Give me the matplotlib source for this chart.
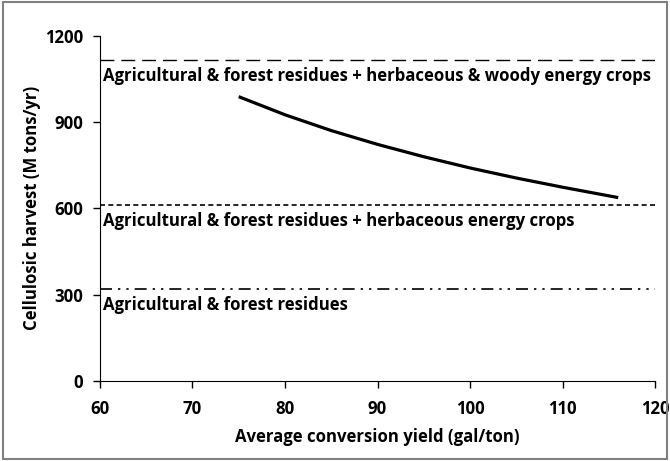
import matplotlib
matplotlib.use("Agg")
import matplotlib.pyplot as plt
from matplotlib.patches import Rectangle

# curva: colleita necesaria segundo o rendemento medio
yield_gal_ton = [75, 80, 85, 90, 95, 100, 105, 110, 116]
harvest_mtons = [988, 925, 870, 822, 779, 740, 705, 673, 637]

# niveis de dispoñibilidade de biomasa
supply_levels = [1115, 612, 320]
supply_labels = [
    "Agricultural & forest residues + herbaceous & woody energy crops",
    "Agricultural & forest residues + herbaceous energy crops",
    "Agricultural & forest residues",
]

plt.rcParams['font.family'] = ['Open Sans', 'DejaVu Sans']
plt.rcParams['font.weight'] = 'bold'
fs = 12.1

fig = plt.figure(figsize=(6.7, 4.61), dpi=100)
ax = fig.add_axes([0.149, 0.174, 0.829, 0.7486])

ax.plot(yield_gal_ton, harvest_mtons, color='black', linewidth=2.3, solid_capstyle='butt')

line_styles = [
    dict(dashes=(10, 5), linewidth=1.0),
    dict(dashes=(3, 2), linewidth=1.2),
    dict(dashes=(7.2, 3.6, 1.4, 3.6, 1.4, 3.6), linewidth=1.2),
]
for level, label, st in zip(supply_levels, supply_labels, line_styles):
    ax.axhline(level, color='black', **st)
    ax.text(60.3, level - 24, label, ha='left', va='top', fontsize=fs, fontweight='bold')

ax.set_xlim(60, 120)
ax.set_ylim(0, 1200)
ax.set_xticks([60, 70, 80, 90, 100, 110, 120])
ax.set_yticks([0, 300, 600, 900, 1200])
ax.spines['top'].set_visible(False)
ax.spines['right'].set_visible(False)
ax.tick_params(direction='out', length=5, width=1, labelsize=fs)
ax.tick_params(axis='x', pad=9)
ax.tick_params(axis='y', pad=7)
for lab in ax.get_xticklabels() + ax.get_yticklabels():
    lab.set_fontweight('bold')

ax.set_xlabel("Average conversion yield (gal/ton)", fontsize=fs, fontweight='bold', labelpad=7)
ax.set_ylabel("Cellulosic harvest (M tons/yr)", fontsize=fs, fontweight='bold', labelpad=3)

# marco gris arredor da figura
fig.patches.append(Rectangle((0.004, 0.005), 0.992, 0.99, transform=fig.transFigure,
                             fill=False, edgecolor='#808080', linewidth=1.5))

fig.savefig("out.png", dpi=100)
